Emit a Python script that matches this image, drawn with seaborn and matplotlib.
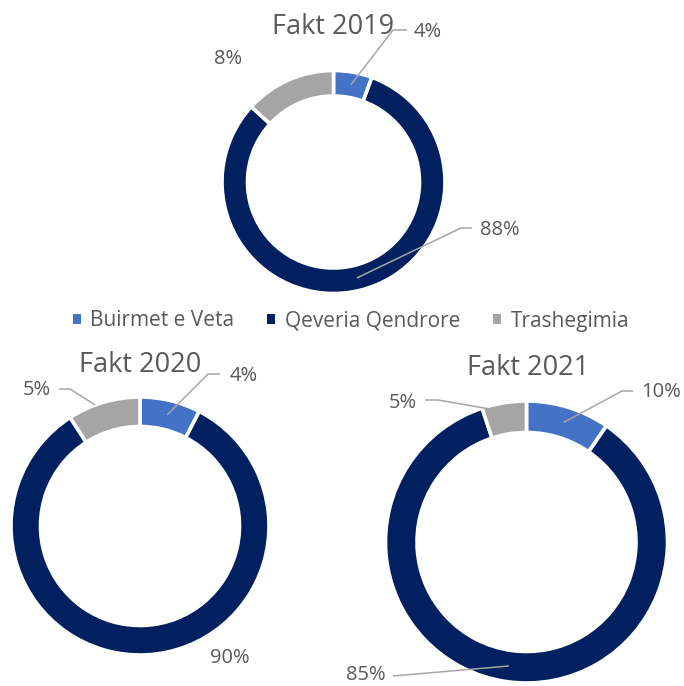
import matplotlib
matplotlib.use("Agg")
import matplotlib.pyplot as plt
from matplotlib.patches import Patch
import numpy as np
import seaborn as sns

# ---------------- data ----------------
categories = ["Buirmet e Veta", "Qeveria Qendrore", "Trashegimia"]
titles = ["Fakt 2019", "Fakt 2020", "Fakt 2021"]
# slice shares as drawn in the picture (percent)
shares_2019 = [5.6, 81.2, 13.2]
shares_2020 = [7.6, 83.3, 9.1]
shares_2021 = [9.6, 85.3, 5.1]
# printed data labels
labels_2019 = ["4%", "88%", "8%"]
labels_2020 = ["4%", "90%", "5%"]
labels_2021 = ["10%", "85%", "5%"]

# ---------------- style ----------------
sns.set_theme(style="white")
plt.rcParams["font.family"] = ["Open Sans", "DejaVu Sans"]
palette = sns.color_palette(["#4472C4", "#002060", "#A5A5A5"])
TXT = "#595959"
LINE = "#A6A6A6"

W, H = 684, 686
fig = plt.figure(figsize=(W / 100, H / 100), dpi=100)
ax = fig.add_axes([0, 0, 1, 1])

# layout: centre (px, from top), outer radius, ring width
layout = [
    dict(c=(333.5, 182.0), r=111.5, w=25.5, title=(333, 27)),
    dict(c=(140.0, 526.0), r=129.0, w=29.5, title=(140, 365)),
    dict(c=(526.5, 542.0), r=141.0, w=31.5, title=(528, 368)),
]
# label placement per donut: text position (px), alignment, leader elbow points,
# anchor radius factor (None = ring middle) and anchor fraction along the wedge angle
label_layout = [
    [  # 2019
        dict(t=(414, 32), ha="left", elbow=[(407, 30), (393, 30)], rf=None, fr=0.5),
        dict(t=(480, 230), ha="left", elbow=[(472, 228), (461, 228)], rf=None, fr=0.5),
        dict(t=(228, 59), ha="center", elbow=None),
    ],
    [  # 2020
        dict(t=(230, 376), ha="left", elbow=[(220, 374), (208, 374)], rf=None, fr=0.5),
        dict(t=(230, 658), ha="center", elbow=None),
        dict(t=(51, 390), ha="right", elbow=[(59, 389), (70, 389)], rf=1.0, fr=0.62),
    ],
    [  # 2021
        dict(t=(641, 392), ha="left", elbow=[(633, 391), (622, 391)], rf=None, fr=0.5),
        dict(t=(386, 675), ha="right", elbow=[(393, 676)], rf=None, fr=0.5),
        dict(t=(417, 403), ha="right", elbow=[(425, 400), (438, 400)], rf=0.98, fr=0.85),
    ],
]

all_shares = [shares_2019, shares_2020, shares_2021]
all_labels = [labels_2019, labels_2020, labels_2021]

for k in range(3):
    L = layout[k]
    cx, cy = L["c"]
    wedges, _ = ax.pie(
        all_shares[k], radius=L["r"], center=(cx, H - cy),
        startangle=90, counterclock=False, colors=palette,
        wedgeprops=dict(width=L["w"], edgecolor="white", linewidth=2.6),
    )
    ax.text(L["title"][0], H - L["title"][1], titles[k], ha="center", va="center",
            fontsize=19.5, color=TXT)
    for i, wdg in enumerate(wedges):
        ll = label_layout[k][i]
        tx, ty = ll["t"]
        ax.text(tx, H - ty, all_labels[k][i], ha=ll["ha"], va="center",
                fontsize=14.5, color=TXT)
        if ll["elbow"] is not None:
            lo, hi = sorted((wdg.theta1, wdg.theta2))
            ang = np.deg2rad(lo + (hi - lo) * ll["fr"])
            rf = ll["rf"]
            rad = L["r"] - L["w"] / 2 if rf is None else L["r"] * rf
            ax_, ay_ = cx + rad * np.cos(ang), (H - cy) + rad * np.sin(ang)
            pts = [(x, H - y) for x, y in ll["elbow"]] + [(ax_, ay_)]
            xs, ys = zip(*pts)
            ax.plot(xs, ys, color=LINE, lw=1.1, solid_capstyle="butt")

ax.set_xlim(0, W)
ax.set_ylim(0, H)
ax.set_aspect("equal")
ax.axis("off")

handles = [Patch(facecolor=c, edgecolor="none") for c in palette]
fig.legend(handles, categories, loc="center", bbox_to_anchor=(351 / W, 1 - 321 / H),
           ncol=3, frameon=False, fontsize=15, labelcolor=TXT,
           handlelength=0.38, handleheight=0.38, handletextpad=0.45,
           columnspacing=1.6, borderpad=0)

fig.savefig("out.png", dpi=100, facecolor="white")
